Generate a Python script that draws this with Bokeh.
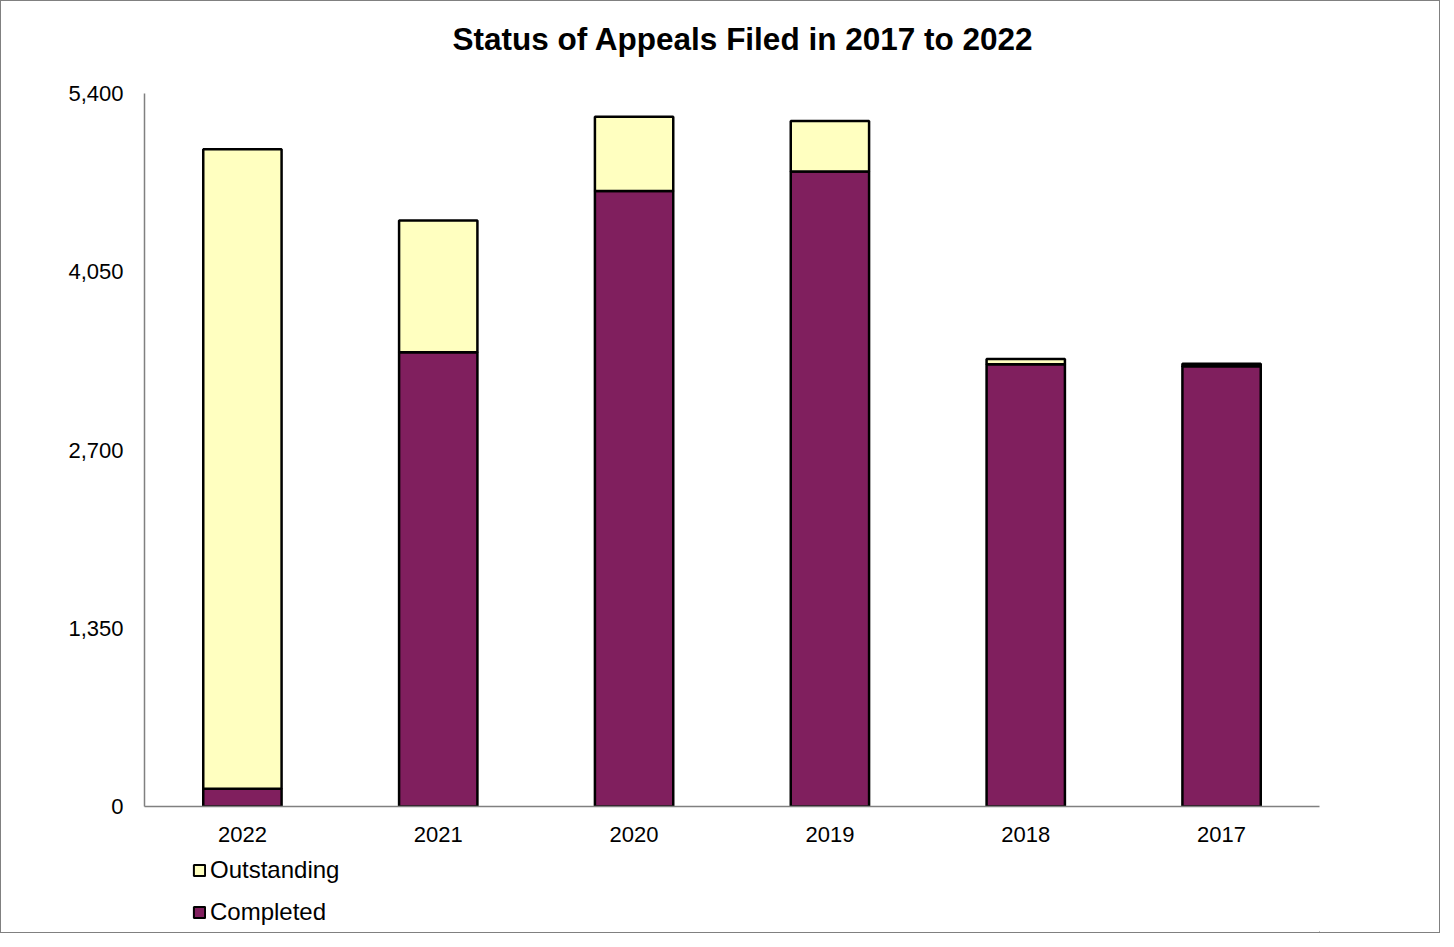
from bokeh.plotting import figure
from bokeh.layouts import column
from bokeh.models import (ColumnDataSource, FactorRange, FixedTicker, NumeralTickFormatter,
                          Legend, LegendItem, Range1d, Title)
from bokeh.embed import file_html
from bokeh.resources import INLINE

years = ["2022", "2021", "2020", "2019", "2018", "2017"]
completed = [135, 3440, 4661, 4810, 3349, 3335]
outstanding = [4842, 998, 563, 381, 40, 18]
y_ticks = [0, 1350, 2700, 4050, 5400]
series_labels = ["Completed", "Outstanding"]
title_text = "Status of Appeals Filed in 2017 to 2022"

PURPLE = "#801F5E"
YELLOW = "#FFFFC0"
FONT = "Liberation Sans"
W = 1438
H_MAIN = 853
H_LEG = 78

src = ColumnDataSource(dict(years=years, completed=completed, outstanding=outstanding))

p = figure(width=W, height=H_MAIN, x_range=FactorRange(*years, range_padding=0),
           y_range=Range1d(0, 5400), output_backend="svg", toolbar_location=None,
           title=None,
           min_border_left=143, min_border_right=120, min_border_top=92, min_border_bottom=48)

rs = p.vbar_stack(["completed", "outstanding"], x="years", width=0.40, source=src,
                  color=[PURPLE, YELLOW], line_color="black", line_width=2.5)

# spacer (closest to frame) then the real title above it
spacer = Title(text=" ", text_font_size="1px", standoff=34)
p.add_layout(spacer, "above")
main_title = Title(text=title_text, align="left", offset=308, text_font=FONT,
                   text_font_size="31.5px", text_font_style="bold", text_color="black",
                   standoff=0)
p.add_layout(main_title, "above")

p.xgrid.visible = False
p.ygrid.visible = False
p.outline_line_color = None

for ax in (p.xaxis[0], p.yaxis[0]):
    ax.axis_line_color = "#808080"
    ax.axis_line_width = 1.5
    ax.major_tick_line_color = None
    ax.minor_tick_line_color = None
    ax.major_label_text_font = FONT
    ax.major_label_text_font_size = "22px"
    ax.major_label_text_color = "black"

p.yaxis[0].ticker = FixedTicker(ticks=y_ticks)
p.yaxis[0].formatter = NumeralTickFormatter(format="0,0")
p.yaxis[0].major_label_standoff = 15
p.xaxis[0].major_label_standoff = 14

# legend strip below the chart
p2 = figure(width=W, height=H_LEG, x_range=Range1d(0, 1), y_range=Range1d(0, 1),
            output_backend="svg", toolbar_location=None, x_axis_type=None, y_axis_type=None,
            min_border=0)
p2.xgrid.visible = False
p2.ygrid.visible = False
p2.outline_line_color = None
offscreen = ColumnDataSource(dict(x=[5], top=[0]))
leg_c = p2.vbar(x="x", top="top", width=0.4, source=offscreen, fill_color=PURPLE,
                line_color="black", line_width=2)
leg_o = p2.vbar(x="x", top="top", width=0.4, source=offscreen, fill_color=YELLOW,
                line_color="black", line_width=2)

legend = Legend(items=[LegendItem(label=series_labels[1], renderers=[leg_o]),
                       LegendItem(label=series_labels[0], renderers=[leg_c])],
                location=(48, 6), orientation="vertical",
                glyph_width=14, glyph_height=14, label_standoff=4,
                label_text_font=FONT, label_text_font_size="24px", label_text_color="black",
                spacing=14, padding=0, margin=0, border_line_color=None,
                background_fill_alpha=0)
p2.add_layout(legend)

layout = column(p, p2, spacing=0)
layout.styles = {"border": "1px solid #808080"}

open("out.html", "w").write(file_html(layout, INLINE))
